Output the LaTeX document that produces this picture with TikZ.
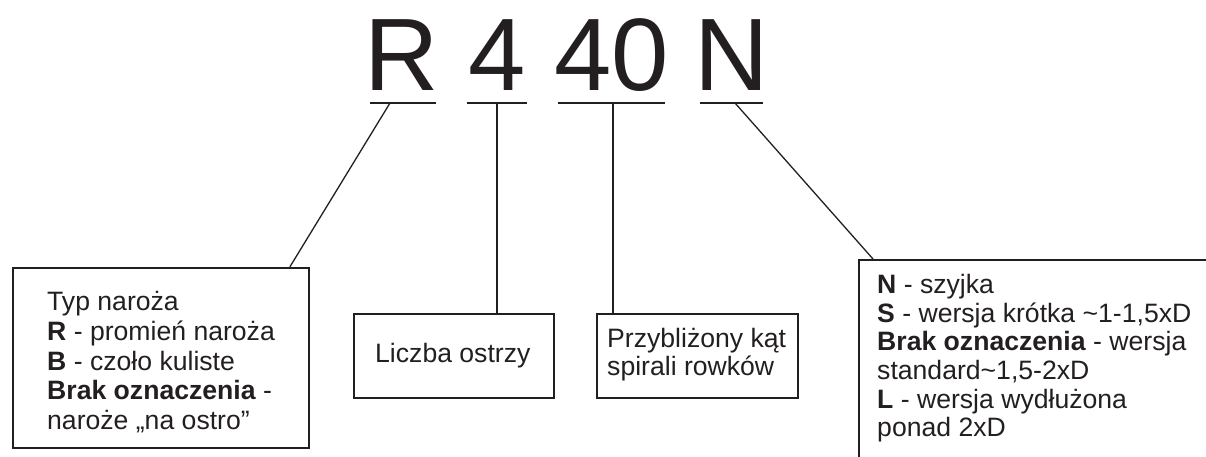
\documentclass[tikz,border=0pt]{standalone}
\usepackage{fontspec}
\setmainfont{Liberation Sans}
\usepackage{xcolor}
\usetikzlibrary{calc,positioning}
\definecolor{kodInk}{RGB}{35,31,32}
\tikzset{
  ramka/.style={draw=kodInk, line width=1.8pt, inner sep=0pt, anchor=north west},
  opis/.style={font=\fontsize{26.6}{29.8}\selectfont, text=kodInk, align=left, inner sep=0pt, anchor=north west},
  znak/.style={font=\fontsize{103}{103}\selectfont, text=kodInk, anchor=base, inner sep=0pt},
  linka/.style={draw=kodInk, line width=1.3pt}
}

\begin{document}
\begin{tikzpicture}[x=1pt,y=-1pt]
  \useasboundingbox (0,0) rectangle (1206,457);
  \clip (0,0) rectangle (1206,457);
  % symbol
  \node[znak] (zR) at (402,91) {R};
  \node[znak] (z4) at (497,91) {4};
  \node[znak] (z40) at (611.5,91) {40};
  \node[znak] (zN) at (731.5,91) {N};
  \draw[linka] (370,103) -- (436,103);
  \draw[linka] (467,103) -- (527,103);
  \draw[linka] (558,103) -- (665,103);
  \draw[linka] (700,103) -- (763,103);
  \coordinate (tR) at (390,103);
  \coordinate (t4) at (497,103);
  \coordinate (t40) at (613,103);
  \coordinate (tN) at (735,103);
  % ramki
  \node[ramka, minimum width=296pt, minimum height=180pt] (lbox) at (12,267) {};
  \node[ramka, minimum width=200pt, minimum height=84pt] (cbox) at (353,313) {};
  \node[ramka, minimum width=201pt, minimum height=84pt] (pbox) at (596,313) {};
  \node[ramka, minimum width=400pt, minimum height=250pt] (nbox) at (858,259) {};
  % opisy
  \node[opis] (ltekst) at (47,291)
    {Typ naroża\\\textbf{R} - promień naroża\\\textbf{B} - czoło kuliste\\\textbf{Brak oznaczenia} -\\naroże „na ostro”};
  \node[opis] (ctekst) at (375,342.6) {Liczba ostrzy};
  \node[opis, font=\fontsize{26.6}{28.7}\selectfont] (ptekst) at (607,327.6)
    {Przybliżony kąt\\spirali rowków};
  \node[opis, font=\fontsize{26.6}{28.7}\selectfont] (ntekst) at (877,274)
    {\textbf{N} - szyjka\\\textbf{S} - wersja krótka \textasciitilde1-1,5xD\\\textbf{Brak oznaczenia} - wersja\\standard\textasciitilde1,5-2xD\\\textbf{L} - wersja wydłużona\\ponad 2xD};
  % linie
  \draw[linka] (tR) -- ($(lbox.north east)+(-20,0)$);
  \draw[linka] (t4) -- (t4 |- cbox.north);
  \draw[linka] (t40) -- (t40 |- pbox.north);
  \draw[linka] (tN) -- ($(nbox.north west)+(15,0)$);
\end{tikzpicture}
\end{document}
